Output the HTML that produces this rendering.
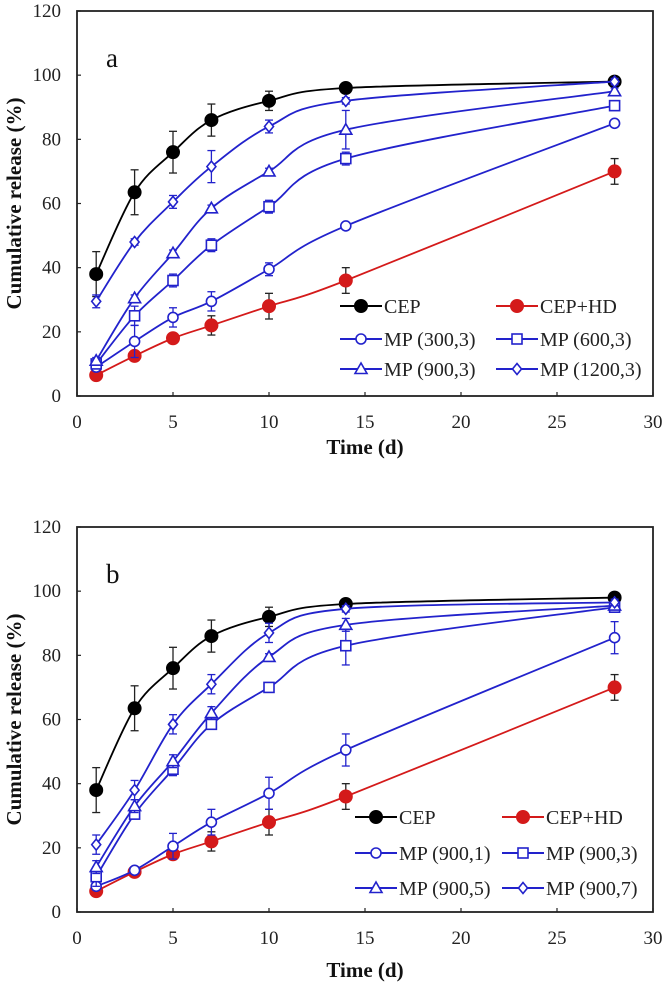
<!DOCTYPE html>
<html><head><meta charset="utf-8"><style>
html,body{margin:0;padding:0;background:#fff;}
svg{display:block;font-family:"Liberation Serif",serif;}
</style></head><body>
<svg id="chart" width="666" height="985" viewBox="0 0 666 985"></svg>
<script>
const days = [1,3,5,7,10,14,28];
const xTicks = [0,5,10,15,20,25,30];
const yTicks = [0,20,40,60,80,100,120];
const cepVals = [38,63.5,76,86,92,96,98];
const cepErr = [7,7,6.5,5,3,1,1];
const hdVals = [6.5,12.5,18,22,28,36,70];
const hdErr = [1,1,1.5,3,4,4,4];
const a300Vals = [9,17,24.5,29.5,39.5,53,85];
const a300Err = [1,5,3,3,2,1,1];
const a600Vals = [10,25,36,47,59,74,90.5];
const a600Err = [1,3,2,2,2,2,1];
const a900Vals = [11,30.5,44.5,58.5,70,83,95];
const a900Err = [1,1,1,1,1,6,1];
const a1200Vals = [29.5,48,60.5,71.5,84,92,98];
const a1200Err = [2,1,2,5,2,1,1];
const b1Vals = [8,13,20.5,28,37,50.5,85.5];
const b1Err = [1,1,4,4,5,5,5];
const b3Vals = [11,30.5,44.5,58.5,70,83,95];
const b3Err = [3,1,2,1,1,6,1];
const b5Vals = [14,33,47,62,79.5,89.5,95.5];
const b5Err = [2,2,2,2,1,2,1];
const b7Vals = [21,38,58.5,71,87,94.5,96.5];
const b7Err = [3,3,3,3,3,1,1];

const NS = "http://www.w3.org/2000/svg";
const svg = document.getElementById('chart');
const BLUE = "#2222cc", RED = "#d41a1a";
function el(tag, attrs, parent){ const e=document.createElementNS(NS,tag); for(const k in attrs) e.setAttribute(k,attrs[k]); (parent||svg).appendChild(e); return e; }

function panel(cfg){
  const g = el('g',{});
  
  
  const L=77,R=653,T=cfg.top,B=cfg.bottom;
  const xs = v => L + v/30*(R-L);
  const ys = v => B - v/120*(B-T);
  const frame = el('rect',{x:L,y:T,width:R-L,height:B-T,fill:'none',stroke:'#222','stroke-width':1.8},g);
  
  
  xTicks.forEach(t=>{
    el('line',{x1:xs(t),x2:xs(t),y1:B,y2:B-4,stroke:'#222','stroke-width':1.2},g);
    const tx = el('text',{x:xs(t),y:B+32,'font-size':19,'text-anchor':'middle',fill:'#222'},g);
    tx.textContent=t;
    
    
  });
  yTicks.forEach(t=>{
    el('line',{x1:L,x2:L+4,y1:ys(t),y2:ys(t),stroke:'#222','stroke-width':1.2},g);
    const tx = el('text',{x:61,y:ys(t)+6,'font-size':19,'text-anchor':'end',fill:'#222'},g);
    tx.textContent=t;
    
    
  });
  const xt = el('text',{x:365,y:cfg.xTitleY,'font-size':21,'font-weight':'bold','text-anchor':'middle',fill:'#111'},g);
  xt.textContent='Time (d)';
  
  
  const cy=(T+B)/2;
  const yt = el('text',{x:0,y:0,'font-size':21,'font-weight':'bold','text-anchor':'middle',fill:'#111',transform:`translate(21,${cy}) rotate(-90)`},g);
  yt.textContent='Cumulative release (%)';
  
  
  const pl = el('text',{x:106,y:T+56,'font-size':27,fill:'#111'},g);
  pl.textContent=cfg.id;
  
  

  function marker(kind,x,y,color,parent){
    let m;
    if(kind==='dot') m=el('circle',{cx:x,cy:y,r:6.5,fill:color,stroke:color},parent);
    else if(kind==='circle') m=el('circle',{cx:x,cy:y,r:5,fill:'#fff',stroke:color,'stroke-width':1.6},parent);
    else if(kind==='square') m=el('rect',{x:x-5,y:y-5,width:10,height:10,fill:'#fff',stroke:color,'stroke-width':1.6},parent);
    else if(kind==='tri') m=el('polygon',{points:`${x},${y-6} ${x-6},${y+4.5} ${x+6},${y+4.5}`,fill:'#fff',stroke:color,'stroke-width':1.6},parent);
    else m=el('polygon',{points:`${x},${y-5.5} ${x-4.5},${y} ${x},${y+5.5} ${x+4.5},${y}`,fill:'#fff',stroke:color,'stroke-width':1.6},parent);
    return m;
  }
  function smooth(pts){
    let d=`M${pts[0][0]},${pts[0][1]}`;
    for(let i=0;i<pts.length-1;i++){
      const p0=pts[Math.max(0,i-1)],p1=pts[i],p2=pts[i+1],p3=pts[Math.min(pts.length-1,i+2)];
      const c1=[p1[0]+(p2[0]-p0[0])/6,p1[1]+(p2[1]-p0[1])/6];
      const c2=[p2[0]-(p3[0]-p1[0])/6,p2[1]-(p3[1]-p1[1])/6];
      d+=` C${c1[0]},${c1[1]} ${c2[0]},${c2[1]} ${p2[0]},${p2[1]}`;
    }
    return d;
  }
  cfg.series.forEach(s=>{
    const sg = el('g',{},g);
    
    
    const pts = days.map((d,i)=>[xs(d),ys(s.vals[i])]);
    const ln = el('path',{d:smooth(pts),fill:'none',stroke:s.color,'stroke-width':1.8},sg);
    
    
    days.forEach((d,i)=>{
      const x=xs(d),y1=ys(s.vals[i]+s.err[i]),y2=ys(s.vals[i]-s.err[i]);
      const ec = s.kind==='dot'?'#222':s.color;
      el('line',{x1:x,x2:x,y1:y1,y2:y2,stroke:ec,'stroke-width':1.3},sg);
      el('line',{x1:x-4,x2:x+4,y1:y1,y2:y1,stroke:ec,'stroke-width':1.3},sg);
      el('line',{x1:x-4,x2:x+4,y1:y2,y2:y2,stroke:ec,'stroke-width':1.3},sg);
      const m = marker(s.kind,x,ys(s.vals[i]),s.color,sg);
      
      
    });
  });
  const lg = el('g',{},g);
  
  
  cfg.series.forEach((s,i)=>{
    const col=i%2,row=Math.floor(i/2);
    const lx=cfg.legX[col], ly=cfg.legY[row];
    const e = el('g',{},lg);
    
    
    el('line',{x1:lx,x2:lx+42,y1:ly,y2:ly,stroke:s.color,'stroke-width':2},e);
    marker(s.kind,lx+21,ly,s.color,e);
    const t=el('text',{x:lx+44,y:ly+7,'font-size':20,fill:'#222'},e);
    t.textContent=s.label;
  });
}

panel({id:'a',top:11,bottom:396,xTitleY:454,legX:[340,496],legY:[306,339,369],
  series:[
    {key:'cep',label:'CEP',vals:cepVals,err:cepErr,kind:'dot',color:'#000'},
    {key:'cep-hd',label:'CEP+HD',vals:hdVals,err:hdErr,kind:'dot',color:RED},
    {key:'mp-300-3',label:'MP (300,3)',vals:a300Vals,err:a300Err,kind:'circle',color:BLUE},
    {key:'mp-600-3',label:'MP (600,3)',vals:a600Vals,err:a600Err,kind:'square',color:BLUE},
    {key:'mp-900-3',label:'MP (900,3)',vals:a900Vals,err:a900Err,kind:'tri',color:BLUE},
    {key:'mp-1200-3',label:'MP (1200,3)',vals:a1200Vals,err:a1200Err,kind:'diamond',color:BLUE}
  ]});
panel({id:'b',top:527,bottom:912,xTitleY:977,legX:[355,502],legY:[817,853,888],
  series:[
    {key:'cep',label:'CEP',vals:cepVals,err:cepErr,kind:'dot',color:'#000'},
    {key:'cep-hd',label:'CEP+HD',vals:hdVals,err:hdErr,kind:'dot',color:RED},
    {key:'mp-900-1',label:'MP (900,1)',vals:b1Vals,err:b1Err,kind:'circle',color:BLUE},
    {key:'mp-900-3',label:'MP (900,3)',vals:b3Vals,err:b3Err,kind:'square',color:BLUE},
    {key:'mp-900-5',label:'MP (900,5)',vals:b5Vals,err:b5Err,kind:'tri',color:BLUE},
    {key:'mp-900-7',label:'MP (900,7)',vals:b7Vals,err:b7Err,kind:'diamond',color:BLUE}
  ]});
</script>
</body></html>
